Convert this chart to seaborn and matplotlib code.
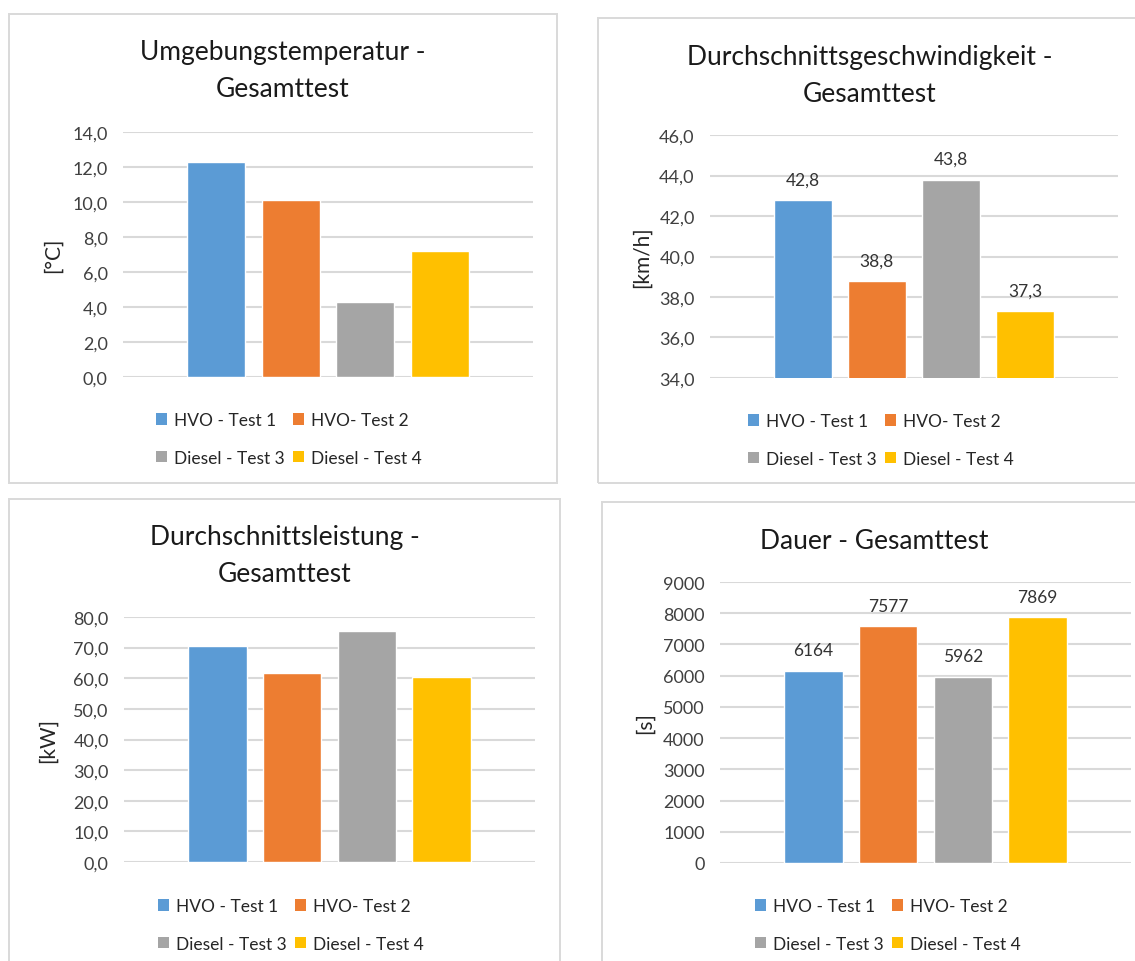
import matplotlib
matplotlib.use("Agg")
import matplotlib.pyplot as plt
from matplotlib.patches import Rectangle, Patch
import seaborn as sns

# series shared by all four charts
series = ["HVO - Test 1", "HVO- Test 2", "Diesel - Test 3", "Diesel - Test 4"]
colors = ["#5B9BD5", "#ED7D31", "#A5A5A5", "#FFC000"]

# values per chart
temperatur = [12.3, 10.1, 4.3, 7.2]          # [°C]
geschwindigkeit = [42.8, 38.8, 43.8, 37.3]   # [km/h]
leistung = [70.6, 61.7, 75.4, 60.3]          # [kW]
dauer = [6164, 7577, 5962, 7869]             # [s]

titles = ["Umgebungstemperatur -\nGesamttest",
          "Durchschnittsgeschwindigkeit -\nGesamttest",
          "Durchschnittsleistung -\nGesamttest",
          "Dauer - Gesamttest"]
units = ["[°C]", "[km/h]", "[kW]", "[s]"]

W, H = 1135, 962

sns.set_style("white")
plt.rcParams["font.family"] = ["Lato", "DejaVu Sans"]

fig = plt.figure(figsize=(W / 100, H / 100), dpi=100)
fig.patch.set_facecolor("white")


def fx(x):
    return x / W


def fy(y):
    return 1 - y / H


def comma(v, nd=1):
    return f"{v:.{nd}f}".replace(".", ",")


# panel layout in pixels: frame box, plot area, title top, legend anchor, ylabel centre x
panels = [
    dict(data=temperatur, frame=(9, 15, 557, 484), plot=(123, 133, 533, 378),
         title_y=40, ylim=(0, 14), step=2, nd=1, labels=False, leg=(156, 413), ylab=53),
    dict(data=geschwindigkeit, frame=(598, 19, 1142, 484), plot=(710, 136, 1118, 379),
         title_y=45, ylim=(34, 46), step=2, nd=1, labels=True, leg=(748, 414), ylab=642),
    dict(data=leistung, frame=(9, 500, 560, 980), plot=(124, 618, 535, 863),
         title_y=525, ylim=(0, 80), step=10, nd=1, labels=False, leg=(158, 899), ylab=48),
    dict(data=dauer, frame=(602, 503, 1146, 980), plot=(720, 583, 1131, 864),
         title_y=529, ylim=(0, 9000), step=1000, nd=0, labels=True, leg=(755, 899), ylab=645),
]

for i, p in enumerate(panels):
    x0, y0, x1, y1 = p["frame"]
    fig.add_artist(Rectangle((fx(x0), fy(y1)), fx(x1 - x0), (y1 - y0) / H,
                             transform=fig.transFigure, fill=False,
                             edgecolor="#D9D9D9", linewidth=1.4))

    a0, b0, a1, b1 = p["plot"]
    ax = fig.add_axes([fx(a0), fy(b1), fx(a1 - a0), (b1 - b0) / H])
    sns.barplot(x=series, y=p["data"], hue=series, palette=colors,
                width=0.78, legend=False, ax=ax, saturation=1)

    lo, hi = p["ylim"]
    ticks = list(range(int(lo), int(hi) + 1, int(p["step"])))
    ax.set_ylim(lo, hi)
    ax.set_yticks(ticks)
    ax.set_yticklabels([comma(t, p["nd"]) for t in ticks])
    ax.set_xlim(1.5 - 2.75, 1.5 + 2.75)
    ax.set_xticks([])
    ax.set_xlabel("")
    ax.yaxis.grid(True, color="#D9D9D9", linewidth=1.5)
    ax.set_axisbelow(True)
    for s in ax.spines.values():
        s.set_visible(False)
    ax.tick_params(axis="y", length=0, pad=11, labelsize=13, labelcolor="#404040")

    ax.set_ylabel(units[i], fontsize=15, color="#262626", va="center")
    ax.yaxis.set_label_coords((p["ylab"] - a0) / (a1 - a0), 0.5)

    if p["labels"]:
        for c, v in zip(ax.containers, p["data"]):
            ax.bar_label(c, labels=[comma(v, p["nd"])], padding=9,
                         fontsize=12.5, color="#333333")

    fig.text(fx((x0 + x1) / 2), fy(p["title_y"]), titles[i], ha="center", va="top",
             fontsize=19, color="#1a1a1a", linespacing=1.62)

    handles = [Patch(facecolor=c, edgecolor="none") for c in colors]
    order = [0, 2, 1, 3]
    ax.legend([handles[k] for k in order], [series[k] for k in order],
              ncol=2, frameon=False, loc="upper left",
              bbox_to_anchor=(fx(p["leg"][0]), fy(p["leg"][1])),
              bbox_transform=fig.transFigure, borderpad=0, borderaxespad=0,
              handlelength=0.65, handleheight=0.65, handletextpad=0.4,
              columnspacing=0.45, labelspacing=1.25,
              prop={"size": 12.5}, labelcolor="#262626")

fig.savefig("out.png", dpi=100, facecolor="white")
